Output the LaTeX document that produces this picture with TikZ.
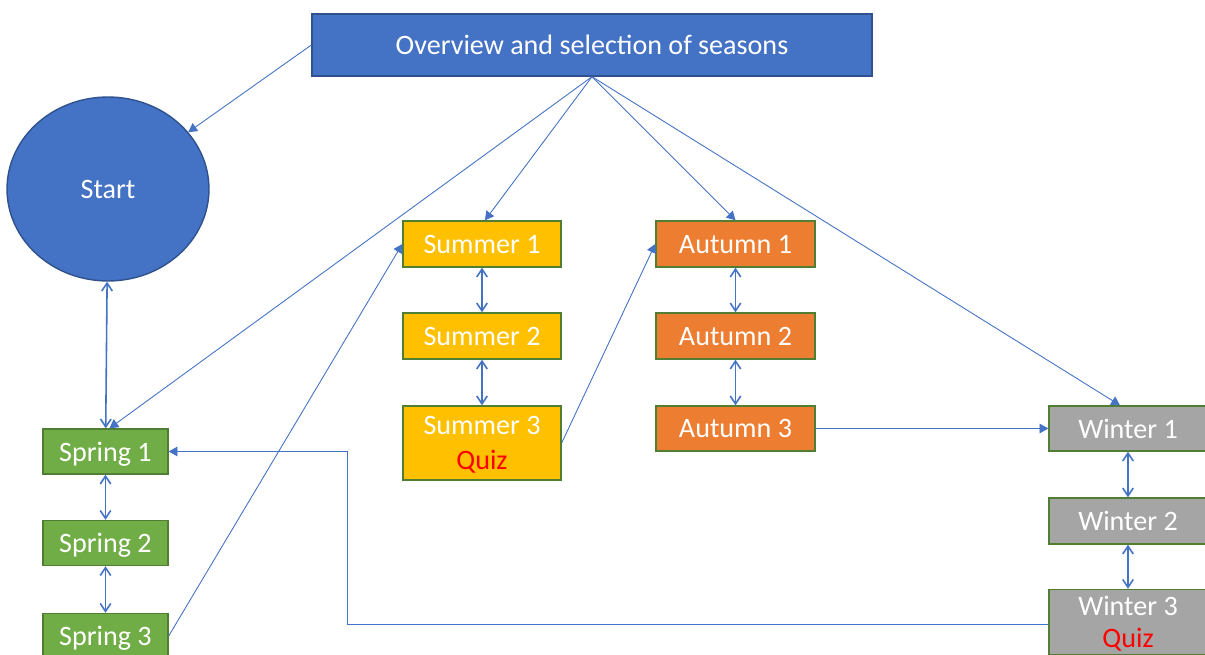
\documentclass[tikz,border=0pt]{standalone}
\usepackage{fontspec}
\setmainfont{Carlito}
\usetikzlibrary{arrows.meta,shapes.geometric}

\definecolor{ovblue}{HTML}{4472C4}
\definecolor{ovedge}{HTML}{2F528F}
\definecolor{springgreen}{HTML}{70AD47}
\definecolor{boxedge}{HTML}{507E32}
\definecolor{summergold}{HTML}{FFC000}
\definecolor{autumnorange}{HTML}{ED7D31}
\definecolor{wintergray}{HTML}{A5A5A5}

\tikzset{
    season/.style={draw=boxedge, line width=0.8pt, text=white, align=center,
        inner sep=2pt, text depth=0pt, font=\fontsize{16}{19.5}\selectfont},
    flow/.style={draw=ovblue, line width=0.5pt, -{Triangle[length=5pt,width=5.5pt]}},
    link/.style={draw=ovblue, line width=0.9pt, {Straight Barb[length=4.5pt,width=6pt]}-{Straight Barb[length=4.5pt,width=6pt]}}
}

\begin{document}
\begin{tikzpicture}[x=0.02cm, y=-0.02cm]
        \clip (0,0) rectangle (1205,655);
        \fill[white] (0,0) rectangle (1205,655);

        % Overview and start
        \node[season, draw=ovedge, fill=ovblue, minimum width=11.2cm, minimum height=1.24cm] (ov) at (592,45) {Overview and selection of seasons};
        \node[season, draw=ovedge, fill=ovblue, ellipse, minimum width=4.04cm, minimum height=3.68cm] (start) at (108,189) {Start};

        % Spring
        \node[season, fill=springgreen, minimum width=2.5cm, minimum height=0.9cm] (sp1) at (105.5,451.5) {Spring 1};
        \node[season, fill=springgreen, minimum width=2.5cm, minimum height=0.9cm] (sp2) at (105.5,543) {Spring 2};
        \node[season, fill=springgreen, minimum width=2.5cm, minimum height=0.9cm] (sp3) at (105.5,636) {Spring 3};

        % Summer
        \node[season, fill=summergold, minimum width=3.16cm, minimum height=0.92cm] (su1) at (482,244) {Summer 1};
        \node[season, fill=summergold, minimum width=3.16cm, minimum height=0.92cm] (su2) at (482,336) {Summer 2};
        \node[season, fill=summergold, minimum width=3.16cm, minimum height=1.48cm] (su3) at (482,443) {Summer 3\\\textcolor{red}{Quiz}};

        % Autumn
        \node[season, fill=autumnorange, minimum width=3.18cm, minimum height=0.92cm] (au1) at (735.5,244) {Autumn 1};
        \node[season, fill=autumnorange, minimum width=3.18cm, minimum height=0.92cm] (au2) at (735.5,336) {Autumn 2};
        \node[season, fill=autumnorange, minimum width=3.18cm, minimum height=0.9cm] (au3) at (735.5,428.5) {Autumn 3};

        % Winter
        \node[season, fill=wintergray, minimum width=3.16cm, minimum height=0.9cm] (wi1) at (1128,428.5) {Winter 1};
        \node[season, fill=wintergray, minimum width=3.16cm, minimum height=0.92cm] (wi2) at (1128,521) {Winter 2};
        \node[season, fill=wintergray, minimum width=3.16cm, minimum height=1.3cm] (wi3) at (1128,622) {Winter 3\\[-1pt]\textcolor{red}{Quiz}};

        % From the overview
        \draw[flow] (ov.west) -- (start);
        \draw[flow] (ov.south) -- ([xshift=0.08cm]sp1.north);
        \draw[flow] (ov.south) -- ([xshift=0.06cm]su1.north);
        \draw[flow] (ov.south) -- (au1.north);
        \draw[flow] (ov.south) -- ([xshift=-0.16cm]wi1.north);

        % Between the seasons
        \draw[flow] (sp3.east) -- (su1.west);
        \draw[flow] (su3.east) -- (au1.west);
        \draw[flow] (au3.east) -- (wi1.west);
        \coordinate (back) at (347,0);
        \draw[flow] ([yshift=-0.04cm]wi3.west) -- ([yshift=-0.04cm]wi3.west -| back) |- (sp1.east);

        % Steps within a season
        \foreach \a/\b in {start/sp1, sp1/sp2, sp2/sp3, su1/su2, su2/su3, au1/au2, au2/au3, wi1/wi2, wi2/wi3}
            \draw[link] (\a) -- (\b);
    \end{tikzpicture}
\end{document}
